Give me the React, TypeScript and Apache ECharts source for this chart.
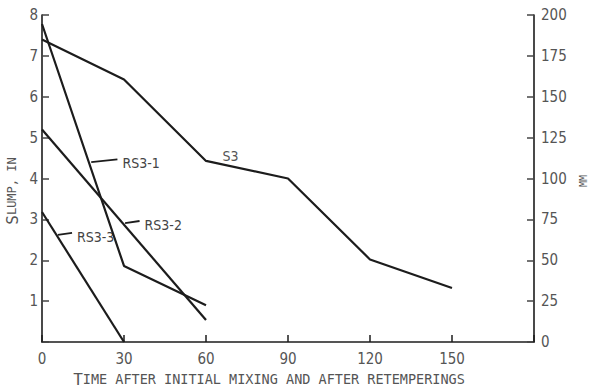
import React, { useEffect, useRef } from "react";
import * as echarts from "echarts";

// Time after initial mixing (minutes)
const s3X = [0, 30, 60, 90, 120, 150];
const s3Y = [7.4, 6.42, 4.43, 4.0, 2.02, 1.32];

const rs31X = [0, 30, 60];
const rs31Y = [7.78, 1.86, 0.9];

const rs32X = [0, 60];
const rs32Y = [5.2, 0.54];

const rs33X = [0, 30];
const rs33Y = [3.18, 0.0];

const xTicks = [0, 30, 60, 90, 120, 150];

// annotation leader lines: [fromX, fromY, toX, toY], label
const annRS31 = { name: "RS3-1", line: [18.0, 4.4, 27.6, 4.47] };
const annRS32 = { name: "RS3-2", line: [30.4, 2.91, 35.7, 2.96] };
const annRS33 = { name: "RS3-3", line: [5.8, 2.62, 11.0, 2.67] };
const annS3 = { name: "S3", at: [69.0, 4.55] };

const INK = "#1c1c1c";
const TXT = "#555";
const TICKFONT = "'Liberation Sans Narrow', 'DejaVu Sans Condensed', 'DejaVu Sans', sans-serif";
const MONO = "'DejaVu Sans Mono', 'Liberation Mono', monospace";

const zip = (xs: number[], ys: number[]) => xs.map((x, i) => [x, ys[i]]);

export default function App() {
  const ref = useRef<HTMLDivElement>(null);
  useEffect(() => {
    if (!ref.current) return;
    const chart = echarts.init(ref.current, undefined, { renderer: "svg" });
    const lineSeries = (name: string, data: number[][]) => ({
      name,
      type: "line",
      data,
      symbol: "none",
      lineStyle: { color: INK, width: 2.2 },
      silent: true,
    });
    chart.setOption({
      animation: false,
      backgroundColor: "#fff",
      grid: { left: 42, right: 55, top: 15, bottom: 48 },
      xAxis: {
        type: "value",
        min: 0,
        max: 180,
        interval: 30,
        axisLine: { show: true, lineStyle: { color: INK, width: 1.6 } },
        axisTick: { show: true, inside: true, length: 7, lineStyle: { color: INK, width: 1.5 } },
        axisLabel: {
          margin: 9,
          color: TXT,
          fontSize: 15,
          fontFamily: TICKFONT,
          formatter: (v: number) => (xTicks.includes(v) ? String(v) : ""),
        },
        splitLine: { show: false },
      },
      yAxis: [
        {
          type: "value",
          position: "left",
          min: 0,
          max: 8,
          interval: 1,
          axisLine: { show: true, lineStyle: { color: INK, width: 1.6 } },
          axisTick: { show: true, inside: true, length: 7, lineStyle: { color: "#444", width: 1.5 } },
          axisLabel: {
            margin: 4,
            color: TXT,
            fontSize: 15,
            fontFamily: TICKFONT,
            formatter: (v: number) => (v === 0 ? "" : String(v)),
          },
          splitLine: { show: false },
        },
        {
          type: "value",
          position: "right",
          min: 0,
          max: 200,
          interval: 25,
          axisLine: { show: true, lineStyle: { color: INK, width: 1.6 } },
          axisTick: { show: true, inside: true, length: 7, lineStyle: { color: "#444", width: 1.5 } },
          axisLabel: {
            margin: 7,
            color: TXT,
            fontSize: 15,
            fontFamily: TICKFONT,
          },
          splitLine: { show: false },
        },
      ],
      series: [
        lineSeries("S3", zip(s3X, s3Y)),
        lineSeries("RS3-1", zip(rs31X, rs31Y)),
        lineSeries("RS3-2", zip(rs32X, rs32Y)),
        lineSeries("RS3-3", zip(rs33X, rs33Y)),
      ],
    });

    const px = (x: number, y: number) =>
      chart.convertToPixel({ xAxisIndex: 0, yAxisIndex: 0 }, [x, y]) as number[];

    const graphics: any[] = [];
    [annRS31, annRS32, annRS33].forEach((a) => {
      const p1 = px(a.line[0], a.line[1]);
      const p2 = px(a.line[2], a.line[3]);
      graphics.push({
        type: "line",
        shape: { x1: p1[0], y1: p1[1], x2: p2[0], y2: p2[1] },
        style: { stroke: INK, lineWidth: 1.8 },
        silent: true,
      });
      graphics.push({
        type: "text",
        x: p2[0] + 5,
        y: p2[1] + 4,
        style: {
          text: a.name,
          fill: "#444",
          font: `14px ${TICKFONT}`,
          align: "left",
          verticalAlign: "middle",
        },
        silent: true,
      });
    });
    const ps = px(annS3.at[0], annS3.at[1]);
    graphics.push({
      type: "text",
      x: ps[0],
      y: ps[1],
      style: {
        text: annS3.name,
        fill: "#555",
        font: `14px ${TICKFONT}`,
        align: "center",
        verticalAlign: "middle",
      },
      silent: true,
    });

    // axis titles
    graphics.push({
      type: "text",
      x: 12,
      y: 191,
      rotation: Math.PI / 2,
      style: {
        text: "{b|S}{s|LUMP, IN}",
        fill: TXT,
        align: "center",
        verticalAlign: "middle",
        rich: {
          b: { fontSize: 16, fontFamily: MONO, fill: TXT },
          s: { fontSize: 12, fontFamily: MONO, fill: TXT },
        },
      },
      silent: true,
    });
    graphics.push({
      type: "text",
      x: 583,
      y: 181,
      rotation: Math.PI / 2,
      style: {
        text: "MM",
        fill: TXT,
        font: `10px ${MONO}`,
        align: "center",
        verticalAlign: "middle",
      },
      silent: true,
    });
    graphics.push({
      type: "text",
      x: 269,
      y: 379,
      style: {
        text: "{b|T}{s|IME AFTER INITIAL MIXING AND AFTER RETEMPERINGS}",
        fill: TXT,
        align: "center",
        verticalAlign: "middle",
        rich: {
          b: { fontSize: 16, fontFamily: MONO, fill: TXT },
          s: { fontSize: 13.5, fontFamily: MONO, fill: TXT },
        },
      },
      silent: true,
    });

    chart.setOption({ graphic: graphics });
    return () => chart.dispose();
  }, []);
  return <div ref={ref} style={{ width: 589, height: 390, position: "fixed", left: 0, top: 0 }} />;
}
